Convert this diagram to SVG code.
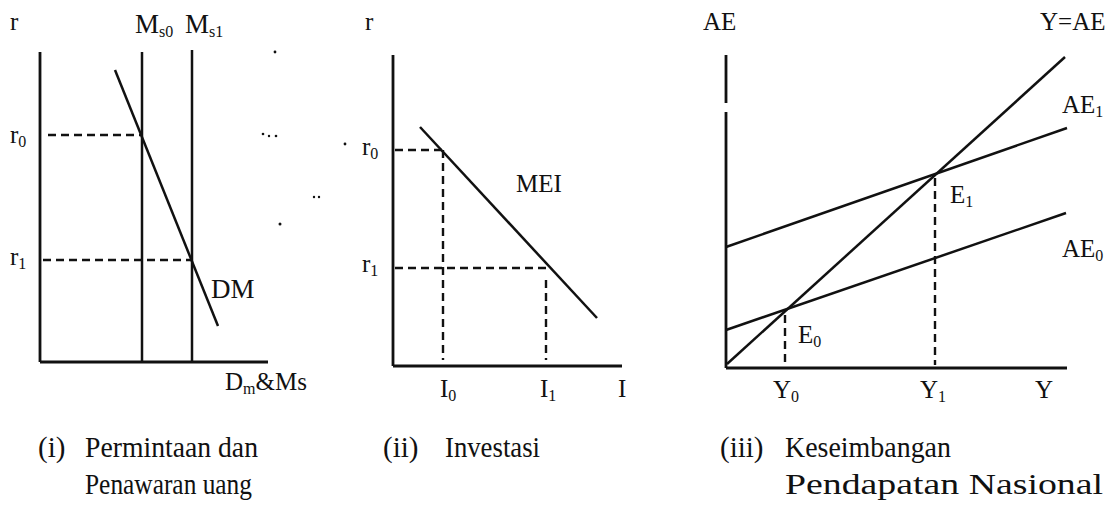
<svg xmlns="http://www.w3.org/2000/svg" width="1113" height="527" viewBox="0 0 1113 527">
<style>
.ax{stroke:#111;stroke-width:2.8;fill:none}
.ln{stroke:#111;stroke-width:2.5;fill:none}
.ds{stroke:#111;stroke-width:2.4;fill:none;stroke-dasharray:8 5}
text{font-family:"Liberation Serif","Times New Roman",serif;fill:#111}
.lb{font-size:25px}
.big{font-size:27px}
.cap{font-size:29px}
.sb{font-size:16px}
</style>
<rect width="1113" height="527" fill="#fff"/>
<g id="panel1">
<g id="connectors1">
<line class="ax" x1="40" y1="52" x2="40" y2="362"/>
<line class="ax" x1="40" y1="362" x2="268" y2="362"/>
<line class="ln" x1="142" y1="52" x2="142" y2="362"/>
<line class="ln" x1="192" y1="50" x2="192" y2="362"/>
<line class="ln" x1="115" y1="70" x2="218" y2="326"/>
<line class="ds" x1="48" y1="135" x2="142" y2="135"/>
<line class="ds" x1="43" y1="260" x2="192" y2="260"/>
</g>
<text class="lb" x="10" y="30">r</text>
<text class="big" x="135" y="33">M<tspan class="sb" dy="4">s0</tspan></text>
<text class="big" x="185" y="33">M<tspan class="sb" dy="4">s1</tspan></text>
<text class="lb" x="10" y="143">r<tspan class="sb" dy="4">0</tspan></text>
<text class="lb" x="10" y="265">r<tspan class="sb" dy="4">1</tspan></text>
<text class="big" x="211" y="298">DM</text>
<text class="lb" x="225" y="390">D<tspan class="sb" dy="4">m</tspan><tspan dy="-4">&amp;Ms</tspan></text>
</g>
<g id="specks" fill="#111">
<circle cx="275" cy="52" r="1.4"/>
<circle cx="263" cy="134" r="1.3"/><circle cx="269" cy="136" r="1.2"/><circle cx="276" cy="136" r="1.3"/>
<circle cx="345" cy="144" r="1.4"/>
<circle cx="314" cy="197" r="1.2"/><circle cx="319" cy="197" r="1.2"/>
<circle cx="280" cy="224" r="1.5"/>
</g>
<g id="panel2">
<g id="connectors2">
<line class="ax" x1="393" y1="55" x2="393" y2="366"/>
<line class="ax" x1="393" y1="366" x2="622" y2="366"/>
<line class="ln" x1="420" y1="127" x2="597" y2="318"/>
<line class="ds" x1="395" y1="150" x2="443" y2="150"/>
<line class="ds" x1="443" y1="150" x2="443" y2="360"/>
<line class="ds" x1="395" y1="268" x2="548" y2="268"/>
<line class="ds" x1="546" y1="280" x2="546" y2="360"/>
</g>
<text class="lb" x="365" y="30">r</text>
<text class="lb" x="362" y="155">r<tspan class="sb" dy="4">0</tspan></text>
<text class="lb" x="362" y="272">r<tspan class="sb" dy="4">1</tspan></text>
<text class="lb" x="516" y="192">MEI</text>
<text class="lb" x="440" y="397">I<tspan class="sb" dy="4">0</tspan></text>
<text class="lb" x="540" y="397">I<tspan class="sb" dy="4">1</tspan></text>
<text class="lb" x="618" y="397">I</text>
</g>
<g id="panel3">
<g id="connectors3">
<line class="ax" x1="726" y1="55" x2="726" y2="103"/>
<line class="ax" x1="726" y1="112" x2="726" y2="368"/>
<line class="ax" x1="726" y1="368" x2="1067" y2="368"/>
<line class="ln" x1="727" y1="364" x2="1065" y2="57"/>
<line class="ln" x1="726" y1="247" x2="1067" y2="128"/>
<line class="ln" x1="726" y1="330" x2="1066" y2="213"/>
<line class="ds" x1="935" y1="178" x2="935" y2="365"/>
<line class="ds" x1="785" y1="315" x2="785" y2="365"/>
</g>
<text class="lb" x="703" y="30">AE</text>
<text class="lb" x="1040" y="30">Y=AE</text>
<text class="lb" x="1062" y="113">AE<tspan class="sb" dy="4">1</tspan></text>
<text class="lb" x="1062" y="257">AE<tspan class="sb" dy="4">0</tspan></text>
<text class="lb" x="950" y="203">E<tspan class="sb" dy="4">1</tspan></text>
<text class="lb" x="798" y="343">E<tspan class="sb" dy="4">0</tspan></text>
<text class="lb" x="773" y="398">Y<tspan class="sb" dy="4">0</tspan></text>
<text class="lb" x="920" y="398">Y<tspan class="sb" dy="4">1</tspan></text>
<text class="lb" x="1035" y="398">Y</text>
</g>
<g id="captions">
<text class="cap" x="38" y="457">(i)</text>
<text class="cap" x="85" y="457" textLength="173" lengthAdjust="spacingAndGlyphs">Permintaan dan</text>
<text class="cap" x="85" y="494" textLength="167" lengthAdjust="spacingAndGlyphs">Penawaran uang</text>
<text class="cap" x="383" y="457">(ii)</text>
<text class="cap" x="445" y="457" textLength="95" lengthAdjust="spacingAndGlyphs">Investasi</text>
<text class="cap" x="720" y="457">(iii)</text>
<text class="cap" x="785" y="457" textLength="166" lengthAdjust="spacingAndGlyphs">Keseimbangan</text>
<text class="cap" x="785" y="494" textLength="318" lengthAdjust="spacingAndGlyphs">Pendapatan Nasional</text>
</g>
</svg>
